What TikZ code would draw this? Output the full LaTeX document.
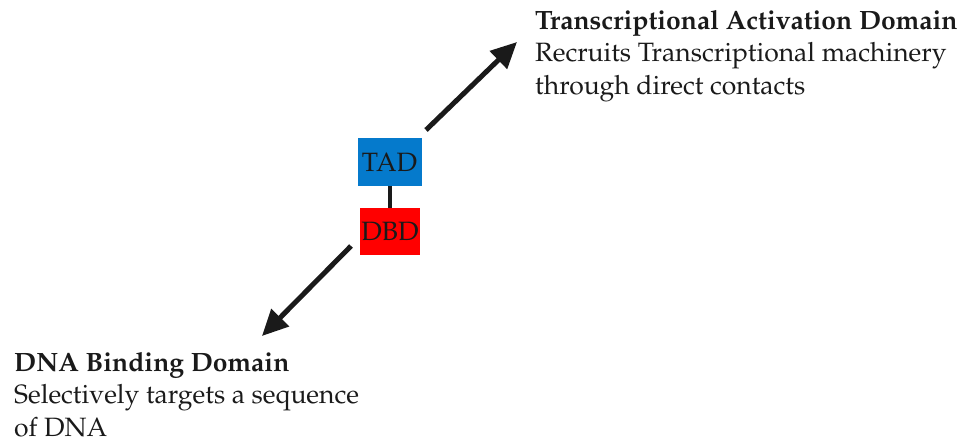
\documentclass[tikz,border=0pt]{standalone}
\usepackage[T1]{fontenc}
\usepackage{mathpazo}
\usetikzlibrary{arrows.meta}
\definecolor{tadblue}{RGB}{5,122,204}
\definecolor{dbdred}{RGB}{255,0,0}
\definecolor{ink}{RGB}{26,26,26}

\begin{document}
\begin{tikzpicture}
  [x=1pt, y=-1pt,
   domainbox/.style={minimum width=64pt, minimum height=48pt, inner sep=0pt, text=ink,
     font=\fontsize{26.5}{30}\selectfont},
   label text/.style={anchor=north west, align=left, inner sep=0pt, text=ink,
     font=\fontsize{26.5}{32.5}\selectfont},
   pointer/.style={ink, line width=5pt, -{Triangle[length=26pt,width=24pt]}}]
  \useasboundingbox (0,0) rectangle (966,442);
  % the two domains
  \node[domainbox, fill=tadblue] (tad) at (389.5,162) {TAD};
  \node[domainbox, fill=dbdred, minimum width=60pt, minimum height=47pt] (dbd) at (390,231.5) {DBD};
  \draw[ink, line width=4pt] (tad.south) -- (tad.south |- dbd.north);
  % arrows out to the descriptions
  \coordinate (tad out) at (426,130);
  \coordinate (tad tip) at (517,42);
  \coordinate (dbd out) at (351,246);
  \coordinate (dbd tip) at (262,336);
  \draw[pointer] (tad out) -- (tad tip);
  \draw[pointer] (dbd out) -- (dbd tip);
  % descriptions
  \node[label text] (tad text) at (535,10)
    {\textbf{Transcriptional Activation Domain}\\Recruits Transcriptional machinery\\through direct contacts};
  \node[label text] (dbd text) at (14,352)
    {\textbf{DNA Binding Domain}\\Selectively targets a sequence\\of DNA};
\end{tikzpicture}
\end{document}
